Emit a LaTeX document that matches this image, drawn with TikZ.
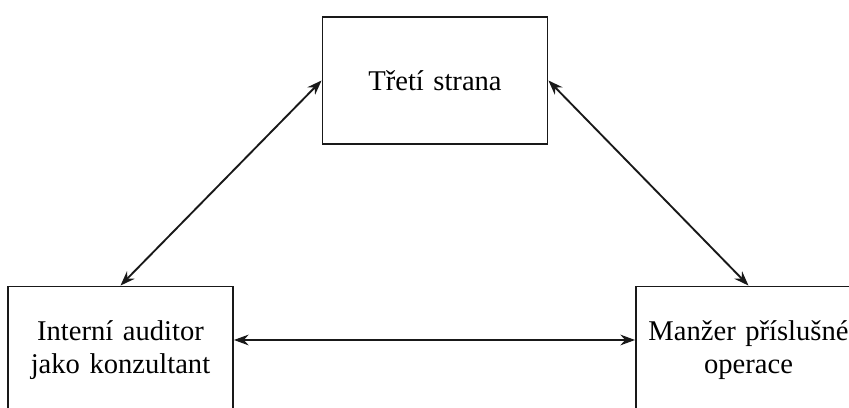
\documentclass[tikz,border=0pt]{standalone}
\usepackage{fontspec}
\setmainfont{Liberation Serif}
\usepackage{tikz}
\usetikzlibrary{arrows.meta}
\colorlet{partyFrame}{black!90}
\colorlet{partyLink}{black!90}

\begin{document}
\begin{tikzpicture}[
  x=0.015cm,
  y=-0.015cm,
  every party/.style={
    draw=partyFrame,
    thick,
    minimum width=3.375cm,
    minimum height=1.905cm,
    text width=3.2cm,
    align=center,
    inner sep=0pt,
    font=\fontsize{12.2}{13.8}\selectfont,
  },
  party/.style={
    every party,
  },
  link/.style={
    draw=partyLink,
    thick,
    {Stealth[length=2.2mm,width=1.6mm]}-{Stealth[length=2.2mm,width=1.6mm]},
  },
]
\path[use as bounding box,clip] (0,0) rectangle (849,408);
\node[party] (third) at (435,80.5) {Třetí strana};
\node[party] (auditor) at (120.5,350) {Interní auditor\\jako konzultant};
\node[party] (manager) at (748.5,350) {Manžer příslušné\\operace};
\draw[link] (third.west) -- (auditor.north);
\draw[link] (third.east) -- (manager.north);
\draw[link] ([yshift=0.15cm]auditor.east) -- ([yshift=0.15cm]manager.west);
\end{tikzpicture}
\end{document}
